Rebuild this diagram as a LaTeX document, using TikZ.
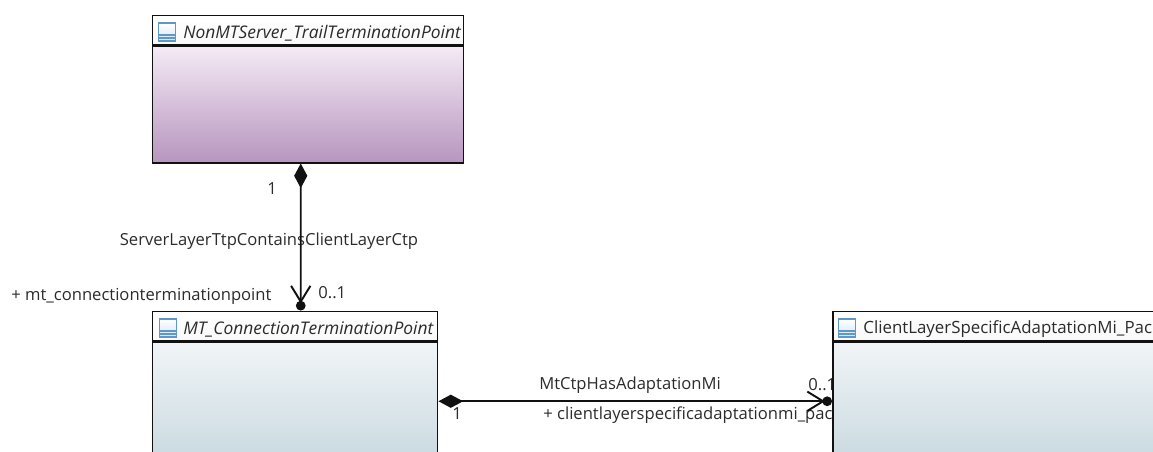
\documentclass[tikz,border=0pt]{standalone}
\usepackage{fontspec}
\setmainfont{Open Sans}
\usetikzlibrary{calc,arrows.meta}
\definecolor{edgeink}{HTML}{111111}
\definecolor{textink}{HTML}{2B2B2B}
\definecolor{iconblue}{HTML}{5E97C9}
\tikzset{
classbody/.style={draw=edgeink,line width=0.85pt,rectangle,anchor=north west,inner sep=0pt,minimum height=147*0.02cm},
classhead/.style={draw=edgeink,line width=0.85pt,rectangle,anchor=south west,inner sep=0pt,minimum height=29*0.02cm,top color=white,bottom color=white!92!black!30},
classicon/.style={draw=iconblue,line width=0.6pt,rectangle,inner sep=0pt,minimum width=17*0.02cm,minimum height=18*0.02cm,top color=white,bottom color=iconblue!25,
  path picture={\draw[iconblue,line width=0.6pt] ($(path picture bounding box.west)+(0,3)$) -- ($(path picture bounding box.east)+(0,3)$);
  \draw[iconblue,line width=0.6pt] ($(path picture bounding box.west)+(0,6)$) -- ($(path picture bounding box.east)+(0,6)$);}},
classname/.style={anchor=west,inner sep=0pt,font=\fontsize{9.9pt}{12pt}\selectfont\itshape,text=textink},
endlabel/.style={inner sep=0pt,font=\fontsize{9.45pt}{12pt}\selectfont,text=textink},
link/.style={draw=edgeink,line width=1pt,{Diamond[length=14pt,width=7.5pt]}-{Straight Barb[length=9pt,width=11pt,line width=1.1pt,sep=-1.5pt]Circle[length=5.5pt]}}
}
\begin{document}
\begin{tikzpicture}[x=0.02cm,y=-0.02cm]
\clip (0,0) rectangle (1153,451);
% labels go under the boxes
\node[endlabel] (srvmult) at (272,189) {1};
\node[endlabel] (srvassoc) at (269,241) {ServerLayerTtpContainsClientLayerCtp};
\node[endlabel,anchor=west] (ctprole) at (11,296) {+ mt\_connectionterminationpoint};
\node[endlabel,anchor=west] (ctpmult) at (318,293) {0..1};
\node[endlabel] (miassoc) at (630,385) {MtCtpHasAdaptationMi};
\node[endlabel,anchor=west] (mimult) at (808,385) {0..1};
\node[endlabel] (ctpone) at (457,414) {1};
\node[endlabel,anchor=west] (mirole) at (543,415) {+ clientlayerspecificadaptationmi\_pac};
% classes
\node[classbody,minimum width=311*0.02cm,minimum height=117*0.02cm,top color=violet!8!white,bottom color={rgb,255:red,183;green,149;blue,191}] (srv) at (152,45) {};
\node[classhead,minimum width=311*0.02cm] (srvhead) at (152,45) {};
\node[classicon] (srvicon) at (167,32) {};
\node[classname] (srvname) at (183,33) {NonMTServer\_TrailTerminationPoint};
\node[classbody,minimum width=285*0.02cm,top color={rgb,255:red,241;green,245;blue,247},bottom color={rgb,255:red,192;green,211;blue,219}] (ctp) at (152,341) {};
\node[classhead,minimum width=285*0.02cm] (ctphead) at (152,341) {};
\node[classicon] (ctpicon) at (168,328) {};
\node[classname] (ctpname) at (183,329) {MT\_ConnectionTerminationPoint};
\node[classbody,minimum width=400*0.02cm,top color={rgb,255:red,241;green,245;blue,247},bottom color={rgb,255:red,192;green,211;blue,219}] (cli) at (832,341) {};
\node[classhead,minimum width=400*0.02cm] (clihead) at (832,341) {};
\node[classicon] (cliicon) at (847,328) {};
\node[classname,font=\fontsize{9.6pt}{12pt}\selectfont] (cliname) at (863,329) {ClientLayerSpecificAdaptationMi\_Pac};
% connectors
\draw[link] ($(srv.south)+(-7.5,0)$) -- ($(ctphead.north)+(5.5,0)$);
\draw[link] ($(ctp.east)+(0,-14)$) -- ($(cli.west)+(0,-14)$);
\end{tikzpicture}
\end{document}
